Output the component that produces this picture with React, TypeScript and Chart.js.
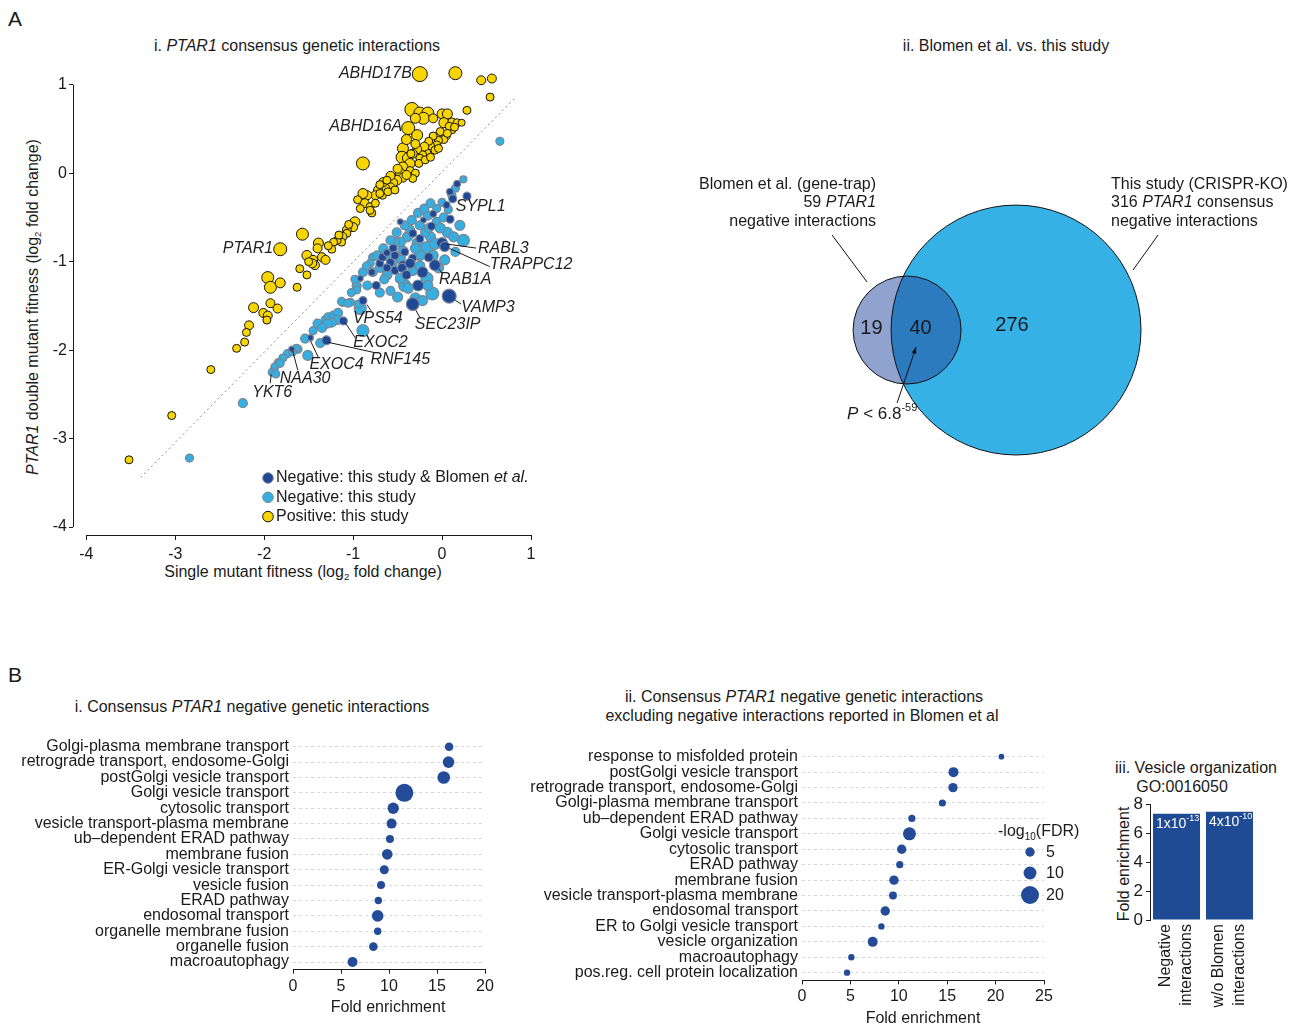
import React, { useEffect, useRef } from 'react';
import { Chart, registerables } from 'chart.js';

Chart.register(...registerables);

const FONT = '"Liberation Sans", Arial, Helvetica, sans-serif';
const INK = '#1a1a1a';
Chart.defaults.font.family = FONT;
Chart.defaults.color = INK;

// ================= Panel A.i : PTAR1 consensus genetic interactions =================
// [single mutant fitness, double mutant fitness, marker size]
const negBothBlomen: [number, number, number][] = [
  [0.17, -0.12, 3.5], [0.09, -0.21, 3.5], [0.28, -0.26, 4], [0.12, -0.29, 4], [-0.10, -0.46, 3.5],
  [-0.21, -0.53, 3], [0.09, -0.52, 4], [-0.33, -0.68, 4], [0, -0.79, 5.5], [0.03, -0.83, 5],
  [-0.55, -0.85, 4], [-0.70, -1.02, 4], [-0.58, -1.01, 4], [-0.44, -1.04, 4.5], [-0.33, -0.96, 4],
  [-0.08, -1.04, 5.5], [-0.22, -1.12, 5.5], [-0.27, -1.27, 5.5], [0.08, -1.39, 7], [-0.33, -1.48, 6.5],
  [-0.92, -1.19, 3], [-0.74, -1.27, 4], [-0.89, -1.44, 4], [-1.11, -1.67, 4], [-1.48, -1.86, 3],
  [-1.30, -1.89, 4.5], [-1.69, -1.99, 3], [-0.67, -0.95, 4], [-0.53, -1.10, 4], [-0.42, -0.89, 4],
  [-0.47, -0.55, 3], [-0.25, -0.74, 4], [-0.79, -1.12, 3.5], [-0.36, -1.02, 5], [-0.62, -1.07, 4],
  [-0.45, -1.07, 4.5], [-0.53, -0.93, 4], [-0.15, -0.95, 4.5], [-0.40, -1.15, 4.5], [0.05, -0.36, 3.5],
  [-0.62, -0.90, 3.5], [-0.12, -0.60, 4],
];
const negThisStudy: [number, number, number][] = [
  [0.65, 0.36, 4], [0.24, -0.07, 3.5], [0, -0.33, 4], [0.07, -0.41, 4], [-0.06, -0.55, 4.5],
  [0.20, -0.59, 5], [-0.39, -0.72, 5], [-0.13, -0.72, 5], [0.06, -0.67, 5], [0.24, -0.76, 6],
  [-0.17, -0.84, 6], [-0.28, -0.79, 5], [-0.47, -0.78, 5], [-0.62, -0.93, 5], [-0.47, -0.96, 5],
  [-0.25, -0.93, 5], [-0.10, -0.93, 5], [-0.33, -1.10, 5], [-0.17, -1.19, 6], [-0.42, -1.27, 6],
  [-0.11, -1.36, 6.5], [-0.16, -1.27, 5], [-0.38, -1.30, 5], [-0.47, -1.19, 5], [-0.62, -1.15, 5],
  [-0.70, -1.07, 4.5], [-0.78, -1.12, 4.5], [-0.89, -1.12, 4.5], [-0.96, -1.27, 4.5], [-0.84, -1.27, 4.5],
  [-0.96, -1.32, 4], [-1.03, -1.46, 4], [-1.12, -1.46, 4], [-0.92, -1.53, 6], [-0.78, -0.95, 4],
  [-0.81, -1.02, 4], [-0.53, -0.78, 4.5], [-0.36, -0.64, 4.5], [-0.25, -0.59, 4.5], [-0.16, -0.48, 4.5],
  [-0.06, -0.40, 4], [0.11, -0.25, 4], [0.15, -0.17, 4], [-0.19, -0.67, 4.5],
  [-1.19, -1.66, 4.5], [-1.31, -1.66, 4.5], [-1.28, -1.63, 4.5], [-1.22, -1.61, 4.5], [-1.17, -1.58, 4.5],
  [-1.18, -1.66, 4.5], [-1.24, -1.69, 4.5], [-1.29, -1.70, 4.5], [-1.40, -1.70, 4.5], [-0.89, -1.78, 6],
  [-1.54, -1.87, 4.5], [-1.37, -1.92, 4.5], [-1.62, -1.99, 4], [-1.51, -2.06, 5], [-1.74, -2.04, 4],
  [-1.79, -2.09, 4], [-1.84, -2.14, 4], [-1.88, -2.19, 4], [-1.91, -2.25, 4], [-1.87, -2.27, 4],
  [-2.24, -2.60, 4.5], [-2.84, -3.22, 4], [-1.13, -1.45, 4], [-1.06, -1.47, 4], [-0.94, -1.48, 4],
  [-1.64, -1.98, 4], [-1.82, -2.15, 4],
  [-0.42, -0.59, 4.5], [-0.34, -0.53, 4.5], [-0.27, -0.45, 4.5], [-0.20, -0.40, 4.5], [-0.13, -0.34, 4.5],
  [-0.51, -0.67, 4.5], [-0.58, -0.76, 4.5], [-0.66, -0.85, 4.5], [-0.73, -0.93, 4.5], [-0.56, -1.01, 5],
  [-0.04, -1.07, 5], [0.03, -0.98, 5], [0.15, -0.89, 4.5], [-0.30, -1.41, 5], [-0.22, -1.44, 5],
  [-0.02, -0.62, 5], [0.13, -0.72, 5], [-0.08, -0.80, 5.5], [-0.25, -1.05, 5], [-0.44, -0.88, 5],
  [-0.65, -1.20, 4.5], [-0.50, -1.40, 5], [-0.58, -1.33, 4.5], [-0.30, -0.85, 5], [-0.15, -0.62, 4.5],
  [0.02, -0.50, 4.5], [-0.85, -1.05, 4], [-0.98, -1.20, 4], [-1.02, -1.35, 4], [-0.70, -1.35, 4.5],
  [-1.35, -1.75, 4.5], [-1.45, -1.78, 4], [-1.68, -2.02, 4],
];
const posThisStudy: [number, number, number][] = [
  [-0.25, 1.12, 7.5], [0.15, 1.13, 6.5], [0.44, 1.05, 4.5], [0.56, 1.07, 4.5], [0.54, 0.86, 4],
  [-0.34, 0.72, 7], [-0.25, 0.68, 6], [-0.16, 0.68, 6], [-0.21, 0.62, 6], [0, 0.67, 5], [0.06, 0.67, 5],
  [0.28, 0.71, 4], [0.02, 0.57, 5], [0.11, 0.58, 4], [0.17, 0.57, 4], [0.22, 0.57, 3.5], [0.11, 0.49, 4],
  [0.04, 0.42, 4.5], [0.02, 0.38, 4], [-0.04, 0.37, 4], [-0.06, 0.32, 4], [-0.13, 0.31, 4], [-0.17, 0.23, 4],
  [-0.22, 0.21, 4], [-0.25, 0.17, 4],
  [-0.38, 0.51, 6.5], [-0.28, 0.43, 5.5], [-0.44, 0.28, 5.5], [-0.45, 0.18, 6], [-0.39, 0.17, 5],
  [-0.36, 0.11, 5], [-0.44, 0.07, 5], [-0.47, 0, 5], [-0.44, -0.05, 4.5], [-0.51, -0.08, 5],
  [-0.55, -0.11, 4.5], [-0.58, -0.16, 4.5], [-0.64, -0.17, 4.5], [-0.72, -0.19, 4.5], [-0.75, -0.25, 4.5],
  [-0.84, -0.25, 4.5], [-0.89, -0.23, 5], [-0.87, -0.34, 4.5], [-0.81, -0.38, 4], [-0.75, -0.34, 4],
  [-0.67, -0.25, 4], [-0.61, -0.21, 4], [-0.53, -0.19, 4],
  [-0.89, 0.11, 6.5], [-0.26, 0.11, 4], [-0.19, 0.15, 4], [-0.13, 0.18, 4], [-0.08, 0.26, 4],
  [-0.04, 0.28, 4], [-0.36, 0.03, 4], [-0.30, 0, 4], [-0.33, -0.06, 4], [-0.79, -0.45, 4],
  [-0.81, -0.42, 4], [-0.70, -0.23, 4],
  [-0.98, -0.55, 5], [-1.00, -0.61, 4.5], [-1.07, -0.64, 4.5], [-1.07, -0.68, 4], [-1.12, -0.72, 4.5],
  [-1.13, -0.78, 4], [-1.18, -0.76, 4], [-1.22, -0.78, 4], [-1.24, -0.86, 4],
  [-1.57, -0.69, 6], [-1.39, -0.79, 5], [-1.52, -0.93, 5], [-1.45, -0.98, 4.5], [-1.43, -1.04, 4.5],
  [-1.35, -0.95, 4.5], [-1.31, -0.98, 4.5], [-1.46, -1.02, 4.5], [-1.52, -1.15, 4],
  [-1.82, -0.86, 6.5], [-1.96, -1.18, 6], [-1.93, -1.29, 6], [-1.82, -1.24, 5], [-1.63, -1.29, 4],
  [-2.12, -1.52, 5], [-2.01, -1.58, 4.5], [-1.96, -1.61, 4.5], [-1.93, -1.47, 4.5], [-1.85, -1.53, 4.5],
  [-1.97, -1.66, 4], [-2.17, -1.72, 4.5], [-2.20, -1.80, 4], [-2.22, -1.91, 4], [-2.31, -1.98, 4],
  [-2.60, -2.22, 4], [-3.04, -2.74, 4], [-3.52, -3.24, 4],
  [-0.30, 0.62, 5], [-0.10, 0.62, 4.5], [0.08, 0.53, 4], [0.14, 0.52, 4], [-0.02, 0.47, 4],
  [0.06, 0.45, 4], [-0.10, 0.42, 4], [-0.15, 0.36, 4], [-0.20, 0.30, 4.5], [-0.28, 0.27, 4.5],
  [-0.33, 0.22, 4.5], [-0.30, 0.33, 4.5], [-0.40, 0.38, 5], [-0.50, 0.05, 4.5], [-0.58, -0.03, 4.5],
  [-0.66, -0.10, 4.5], [-0.70, -0.13, 4], [-0.62, -0.08, 4], [-0.40, -0.02, 4.5], [-0.35, 0.22, 4],
  [-0.95, -0.30, 4], [-0.92, -0.40, 4], [-1.05, -0.58, 4], [-1.16, -0.70, 4], [-1.28, -0.82, 4],
  [-1.40, -0.85, 4.5], [-1.50, -1.00, 4], [-1.60, -1.08, 4],
];
const diagonalX = [-3.39, 0.82];
const diagonalY = [-3.44, 0.85];
const fitnessTicks = [-4, -3, -2, -1, 0, 1];

const geneLabelNames = ['ABHD17B', 'ABHD16A', 'PTAR1', 'SYPL1', 'RABL3', 'TRAPPC12', 'RAB1A', 'VAMP3', 'SEC23IP', 'VPS54', 'EXOC2', 'RNF145', 'EXOC4', 'NAA30', 'YKT6'];
const geneLabelX = [-0.25, -0.38, -1.82, 0.12, 0, 0.03, -0.08, 0.08, -0.33, -0.89, -1.11, -1.30, -1.48, -1.69, -1.91];
const geneLabelY = [1.12, 0.51, -0.86, -0.29, -0.79, -0.83, -1.04, -1.39, -1.48, -1.44, -1.67, -1.89, -1.86, -1.99, -2.25];

// label placement (pixel offsets from the point) and leader segments
const geneLabelLayout: Record<string, { dx: number; dy: number; align: 'left' | 'right'; lead?: [number, number, number, number] }> = {
  ABHD17B: { dx: -8, dy: -1, align: 'right' },
  ABHD16A: { dx: -6, dy: -1, align: 'right' },
  PTAR1: { dx: -7, dy: -1, align: 'right' },
  SYPL1: { dx: 3, dy: 8, align: 'left' },
  RABL3: { dx: 36, dy: 5, align: 'left', lead: [5, 1, 34, 5] },
  TRAPPC12: { dx: 45, dy: 18, align: 'left', lead: [5, 2, 45, 20] },
  RAB1A: { dx: 4, dy: 14, align: 'left', lead: [4, 4, 7, 8] },
  VAMP3: { dx: 12, dy: 11, align: 'left', lead: [6, 4, 12, 8] },
  SEC23IP: { dx: 2, dy: 20, align: 'left', lead: [3, 6, 7, 13] },
  VPS54: { dx: -10, dy: 18, align: 'left', lead: [4, 4, 8, 10] },
  EXOC2: { dx: 10, dy: 22, align: 'left', lead: [2, 2, 12, 17] },
  RNF145: { dx: 44, dy: 19, align: 'left', lead: [2, 2, 47, 12] },
  EXOC4: { dx: -1, dy: 27, align: 'left', lead: [0, 3, 8, 20] },
  NAA30: { dx: -12, dy: 29, align: 'left', lead: [1, 2, 6, 21] },
  YKT6: { dx: -20, dy: 20, align: 'left', lead: [-1, 2, -2, 11] },
};

// ================= Panel A.ii : Venn =================
const vennTotals = [59, 316]; // Blomen et al., this study
const vennRegionCounts = [19, 40, 276];
const vennPValue = { base: '6.8', exp: '-59' };

// ================= Panel B.i =================
const consensusTerms = [
  'Golgi-plasma membrane transport', 'retrograde transport, endosome-Golgi', 'postGolgi vesicle transport',
  'Golgi vesicle transport', 'cytosolic transport', 'vesicle transport-plasma membrane', 'ub\u2013dependent ERAD pathway',
  'membrane fusion', 'ER-Golgi vesicle transport', 'vesicle fusion', 'ERAD pathway', 'endosomal transport',
  'organelle membrane fusion', 'organelle fusion', 'macroautophagy',
];
const consensusFold = [16.26, 16.2, 15.7, 11.6, 10.44, 10.27, 10.1, 9.82, 9.51, 9.17, 8.89, 8.82, 8.82, 8.37, 6.2];
const consensusLogFdr = [4.1, 8.0, 9.5, 20, 7.7, 5.8, 3.5, 6.6, 4.6, 3.5, 2.9, 8.0, 2.9, 4.1, 5.8];
const foldMaxBi = 20;

// ================= Panel B.ii =================
const exclTerms = [
  'response to misfolded protein', 'postGolgi vesicle transport', 'retrograde transport, endosome-Golgi',
  'Golgi-plasma membrane transport', 'ub\u2013dependent ERAD pathway', 'Golgi vesicle transport', 'cytosolic transport',
  'ERAD pathway', 'membrane fusion', 'vesicle transport-plasma membrane', 'endosomal transport',
  'ER to Golgi vesicle transport', 'vesicle organization', 'macroautophagy', 'pos.reg. cell protein localization',
];
const exclFold = [20.6, 15.65, 15.6, 14.5, 11.35, 11.1, 10.3, 10.1, 9.5, 9.4, 8.6, 8.2, 7.3, 5.1, 4.65];
const exclLogFdr = [1.5, 5.8, 5.0, 2.7, 2.7, 10.2, 5.0, 2.7, 5.0, 3.4, 5.0, 2.0, 5.8, 2.0, 2.0];
const foldMaxBii = 25;
const fdrLegendValues = [5, 10, 20];

// ================= Panel B.iii =================
const vesicleLabels = [['Negative', 'interactions'], ['w/o Blomen', 'interactions']];
const vesicleFold = [7.33, 7.47];
const vesiclePBase = ['1x10', '4x10'];
const vesiclePExp = ['-13', '-10'];

// ================= styling =================
const C_DARK = '#1F4896';
const C_LIGHT = '#35AEE2';
const C_YELLOW = '#F8D500';
const C_DOT = '#234B98';
const fdrRadius = (v: number) => Math.sqrt(2.3 + 3.93 * v);

type Seg = { t: string; it?: boolean; sup?: boolean; sub?: boolean };
function drawSegs(ctx: CanvasRenderingContext2D, segs: Seg[], x: number, y: number, size: number, align: 'left' | 'right' | 'center', color = INK) {
  const f = (s: Seg) => `${s.it ? 'italic ' : ''}${s.sup || s.sub ? Math.round(size * 0.62) : size}px ${FONT}`;
  let w = 0;
  for (const s of segs) { ctx.font = f(s); w += ctx.measureText(s.t).width; }
  let cx = align === 'left' ? x : align === 'right' ? x - w : x - w / 2;
  ctx.save();
  ctx.fillStyle = color;
  ctx.textAlign = 'left';
  ctx.textBaseline = 'middle';
  for (const s of segs) {
    ctx.font = f(s);
    const dy = s.sup ? -size * 0.38 : s.sub ? size * 0.3 : 0;
    ctx.fillText(s.t, cx, y + dy);
    cx += ctx.measureText(s.t).width;
  }
  ctx.restore();
}

// ---------- A.i chart ----------
const rangeAxesPlugin = {
  id: 'rangeAxes',
  afterDraw(chart: any) {
    const { ctx, chartArea, scales } = chart;
    const x = scales.x, y = scales.y;
    const lo = fitnessTicks[0], hi = fitnessTicks[fitnessTicks.length - 1];
    ctx.save();
    ctx.strokeStyle = INK;
    ctx.lineWidth = 1;
    ctx.beginPath();
    const lx = Math.round(chartArea.left) + 0.5;
    ctx.moveTo(lx, y.getPixelForValue(hi));
    ctx.lineTo(lx, y.getPixelForValue(lo));
    const by = Math.round(chartArea.bottom) + 0.5;
    ctx.moveTo(x.getPixelForValue(lo), by);
    ctx.lineTo(x.getPixelForValue(hi), by);
    ctx.stroke();
    ctx.restore();
  },
};

const geneLabelPlugin = {
  id: 'geneLabels',
  afterDatasetsDraw(chart: any) {
    const { ctx, scales } = chart;
    geneLabelNames.forEach((g, i) => {
      const px = scales.x.getPixelForValue(geneLabelX[i]);
      const py = scales.y.getPixelForValue(geneLabelY[i]);
      const L = geneLabelLayout[g];
      if (L.lead) {
        ctx.save();
        ctx.strokeStyle = INK;
        ctx.lineWidth = 1;
        ctx.beginPath();
        ctx.moveTo(px + L.lead[0], py + L.lead[1]);
        ctx.lineTo(px + L.lead[2], py + L.lead[3]);
        ctx.stroke();
        ctx.restore();
      }
      drawSegs(ctx, [{ t: g, it: true }], px + L.dx, py + L.dy, 16, L.align, '#222');
    });
  },
};

const legendAPlugin = {
  id: 'legendA',
  afterDraw(chart: any) {
    const { ctx, chartArea } = chart;
    const mx = chartArea.left + 195;
    const rows: { fill: string; stroke: string; segs: Seg[] }[] = [
      { fill: C_DARK, stroke: '#7d8793', segs: [{ t: 'Negative: this study & Blomen ' }, { t: 'et al.', it: true }] },
      { fill: C_LIGHT, stroke: '#7d8793', segs: [{ t: 'Negative: this study' }] },
      { fill: C_YELLOW, stroke: '#111', segs: [{ t: 'Positive: this study' }] },
    ];
    rows.forEach((r, i) => {
      const my = chartArea.bottom - 57 + i * 19.3;
      ctx.save();
      ctx.beginPath();
      ctx.arc(mx, my, 5.3, 0, Math.PI * 2);
      ctx.fillStyle = r.fill;
      ctx.fill();
      ctx.lineWidth = 1;
      ctx.strokeStyle = r.stroke;
      ctx.stroke();
      ctx.restore();
      drawSegs(ctx, r.segs, mx + 8, my, 16, 'left');
    });
  },
};

function buildScatter(): any {
  const toPts = (arr: [number, number, number][]) => arr.map(([x, y, s]) => ({ x, y, r: s }));
  return {
    type: 'bubble',
    data: {
      datasets: [
        { label: 'Negative: this study & Blomen et al.', data: toPts(negBothBlomen), backgroundColor: C_DARK, borderColor: 'rgba(128,138,152,0.95)', borderWidth: 1.2, clip: false },
        { label: 'Negative: this study', data: toPts(negThisStudy), backgroundColor: C_LIGHT, borderColor: '#7a8590', borderWidth: 1.2, clip: false },
        { label: 'Positive: this study', data: toPts(posThisStudy), backgroundColor: C_YELLOW, borderColor: '#141414', borderWidth: 1, clip: false },
        { type: 'scatter', label: 'diagonal', data: diagonalX.map((x, i) => ({ x, y: diagonalY[i] })), showLine: true, borderColor: '#8c8c8c', borderWidth: 1, borderDash: [2, 3], pointRadius: 0, clip: false },
      ],
    },
    options: {
      responsive: false,
      animation: false,
      events: [],
      layout: { autoPadding: false, padding: { top: 16, right: 89, left: 0, bottom: 0 } },
      plugins: { legend: { display: false }, tooltip: { enabled: false } },
      scales: {
        x: {
          type: 'linear', min: -4.15, max: 1,
          afterFit: (s: any) => { s.height = 55; },
          afterBuildTicks: (s: any) => { s.ticks = fitnessTicks.map((v) => ({ value: v })); },
          grid: { drawOnChartArea: false, drawTicks: true, tickLength: 5, color: INK },
          border: { display: false },
          ticks: { font: { size: 16 }, color: INK, padding: 5, maxRotation: 0, callback: (v: any) => `${v}` },
        },
        y: {
          type: 'linear', min: -4.09, max: 1.2,
          afterFit: (s: any) => { s.width = 53; },
          afterBuildTicks: (s: any) => { s.ticks = fitnessTicks.map((v) => ({ value: v })); },
          grid: { drawOnChartArea: false, drawTicks: true, tickLength: 4, color: INK },
          border: { display: false },
          ticks: { font: { size: 16 }, color: INK, padding: 2, callback: (v: any) => `${v}` },
        },
      },
    },
    plugins: [rangeAxesPlugin, geneLabelPlugin, legendAPlugin],
  };
}

// ---------- A.ii Venn ----------
const VENN_W = 618, VENN_H = 320, VENN_PX = 7.03;
const vennCenterX = [32.3, 47.8];
const vennCenterY = 19.91;

const vennPlugin = {
  id: 'venn',
  afterDatasetsDraw(chart: any) {
    const ctx: CanvasRenderingContext2D = chart.ctx;
    const s: any = chart.getDatasetMeta(0).data[0];
    const b: any = chart.getDatasetMeta(1).data[0];
    const rs = s.options.radius, rb = b.options.radius;
    ctx.save();
    ctx.beginPath();
    ctx.arc(s.x, s.y, rs, 0, Math.PI * 2);
    ctx.clip();
    ctx.beginPath();
    ctx.arc(b.x, b.y, rb, 0, Math.PI * 2);
    ctx.fillStyle = '#2C7BBF';
    ctx.fill();
    ctx.restore();
    ctx.save();
    ctx.strokeStyle = '#111';
    ctx.lineWidth = 1;
    ctx.beginPath(); ctx.arc(b.x, b.y, rb, 0, Math.PI * 2); ctx.stroke();
    ctx.beginPath(); ctx.arc(s.x, s.y, rs, 0, Math.PI * 2); ctx.stroke();
    // leader lines
    ctx.beginPath();
    ctx.moveTo(s.x - 75, s.y - 95); ctx.lineTo(s.x - 40, s.y - 48);
    ctx.moveTo(b.x + 142, b.y - 95); ctx.lineTo(b.x + 117, b.y - 60);
    ctx.stroke();
    // arrow
    const ax0 = s.x - 10, ay0 = s.y + 73, ax1 = s.x + 9, ay1 = s.y + 17;
    ctx.beginPath(); ctx.moveTo(ax0, ay0); ctx.lineTo(ax1, ay1); ctx.stroke();
    const ang = Math.atan2(ay1 - ay0, ax1 - ax0);
    ctx.beginPath();
    ctx.moveTo(ax1, ay1);
    ctx.lineTo(ax1 - 7 * Math.cos(ang - 0.35), ay1 - 7 * Math.sin(ang - 0.35));
    ctx.lineTo(ax1 - 7 * Math.cos(ang + 0.35), ay1 - 7 * Math.sin(ang + 0.35));
    ctx.closePath();
    ctx.fillStyle = '#111';
    ctx.fill();
    ctx.restore();
    // numbers
    drawSegs(ctx, [{ t: String(vennRegionCounts[0]) }], s.x - rs * 0.66, s.y - 2, 20, 'center');
    drawSegs(ctx, [{ t: String(vennRegionCounts[1]) }], s.x + rs * 0.25, s.y - 2, 20, 'center');
    drawSegs(ctx, [{ t: String(vennRegionCounts[2]) }], b.x - 4, b.y - 5, 20, 'center');
    // set labels
    const lx = s.x - 31;
    drawSegs(ctx, [{ t: 'Blomen et al. (gene-trap)' }], lx, s.y - 145, 16, 'right');
    drawSegs(ctx, [{ t: `${vennTotals[0]} ` }, { t: 'PTAR1', it: true }], lx, s.y - 127, 16, 'right');
    drawSegs(ctx, [{ t: 'negative interactions' }], lx, s.y - 108, 16, 'right');
    const rx = b.x + 95;
    drawSegs(ctx, [{ t: 'This study (CRISPR-KO)' }], rx, s.y - 145, 16, 'left');
    drawSegs(ctx, [{ t: `${vennTotals[1]} ` }, { t: 'PTAR1', it: true }, { t: ' consensus' }], rx, s.y - 127, 16, 'left');
    drawSegs(ctx, [{ t: 'negative interactions' }], rx, s.y - 108, 16, 'left');
    drawSegs(ctx, [{ t: 'P', it: true }, { t: ' < ' + vennPValue.base }, { t: vennPValue.exp, sup: true }], s.x - 60, s.y + 84, 17, 'left');
  },
};

function buildVenn(): any {
  // circle area proportional to set size: radius = sqrt(n) scale units
  const rPx = (n: number) => Math.sqrt(n) * VENN_PX;
  return {
    type: 'bubble',
    data: {
      datasets: [
        { label: 'Blomen et al.', data: [{ x: vennCenterX[0], y: vennCenterY, r: rPx(vennTotals[0]) }], backgroundColor: '#8FA3CE', borderWidth: 0, clip: false },
        { label: 'This study', data: [{ x: vennCenterX[1], y: vennCenterY, r: rPx(vennTotals[1]) }], backgroundColor: '#35B1E6', borderWidth: 0, clip: false },
      ],
    },
    options: {
      responsive: false,
      animation: false,
      events: [],
      layout: { autoPadding: false, padding: 0 },
      plugins: { legend: { display: false }, tooltip: { enabled: false } },
      scales: {
        x: { type: 'linear', display: false, min: 0, max: VENN_W / VENN_PX },
        y: { type: 'linear', display: false, min: 0, max: VENN_H / VENN_PX },
      },
    },
    plugins: [vennPlugin],
  };
}

// ---------- B dot plots ----------
function buildDots(terms: string[], folds: number[], fdrs: number[], xMax: number, yWidth: number, padRight: number, xHeight: number, extra: any[]): any {
  return {
    type: 'bubble',
    data: {
      datasets: [{ label: 'GO terms', data: terms.map((t, i) => ({ x: folds[i], y: t, r: fdrRadius(fdrs[i]) })), backgroundColor: C_DOT, borderWidth: 0, clip: false }],
    },
    options: {
      responsive: false,
      animation: false,
      events: [],
      layout: { autoPadding: false, padding: { top: 16, right: padRight, left: 0, bottom: 0 } },
      plugins: { legend: { display: false }, tooltip: { enabled: false } },
      scales: {
        x: {
          type: 'linear', min: 0, max: xMax,
          afterFit: (s: any) => { s.height = xHeight; },
          ticks: { stepSize: 5, font: { size: 16 }, color: INK, padding: 3, maxRotation: 0 },
          grid: { drawOnChartArea: false, drawTicks: true, tickLength: 4, color: INK },
          border: { display: true, color: INK, width: 1 },
        },
        y: {
          type: 'category', labels: terms, offset: true,
          afterFit: (s: any) => { s.width = yWidth; },
          ticks: { font: { size: 16 }, color: INK, padding: 4, autoSkip: false },
          grid: { drawTicks: false, color: '#d8d8d8', lineWidth: 1, offset: false },
          border: { display: false, dash: [3, 3] },
        },
      },
    },
    plugins: extra,
  };
}

const fdrLegendPlugin = {
  id: 'fdrLegend',
  afterDraw(chart: any) {
    const { ctx, chartArea } = chart;
    const dx = chartArea.right - 14;
    drawSegs(ctx, [{ t: '-log' }, { t: '10', sub: true }, { t: '(FDR)' }], chartArea.right - 46, chartArea.top + 83, 16, 'left');
    const ys = [103, 124, 146];
    fdrLegendValues.forEach((v, i) => {
      const y = chartArea.top + ys[i];
      ctx.save();
      ctx.beginPath();
      ctx.arc(dx, y, fdrRadius(v), 0, Math.PI * 2);
      ctx.fillStyle = C_DOT;
      ctx.fill();
      ctx.restore();
      drawSegs(ctx, [{ t: String(v) }], chartArea.right + 2, y + 1, 16, 'left');
    });
  },
};

// ---------- B.iii bars ----------
const barPPlugin = {
  id: 'barP',
  afterDatasetsDraw(chart: any) {
    const meta = chart.getDatasetMeta(0);
    meta.data.forEach((bar: any, i: number) => {
      const left = bar.x - bar.width / 2;
      drawSegs(chart.ctx, [{ t: vesiclePBase[i] }, { t: vesiclePExp[i], sup: true }], left + 3, bar.y + 10, 14, 'left', '#fff');
    });
  },
};
const rotLabelPlugin = {
  id: 'rotLabels',
  afterDraw(chart: any) {
    const { ctx, chartArea, scales } = chart;
    vesicleLabels.forEach((lines, i) => {
      const px = scales.x.getPixelForValue(i);
      lines.forEach((line, j) => {
        ctx.save();
        ctx.translate(px + (j === 0 ? -11 : 10), chartArea.bottom + 4);
        ctx.rotate(-Math.PI / 2);
        ctx.font = `16px ${FONT}`;
        ctx.fillStyle = INK;
        ctx.textAlign = 'right';
        ctx.textBaseline = 'middle';
        ctx.fillText(line, 0, 0);
        ctx.restore();
      });
    });
  },
};

function buildBars(): any {
  return {
    type: 'bar',
    data: {
      labels: vesicleLabels.map((l) => l.join(' ')),
      datasets: [{ label: 'Fold enrichment', data: vesicleFold, backgroundColor: '#1F4A94', barPercentage: 0.887, categoryPercentage: 1 }],
    },
    options: {
      responsive: false,
      animation: false,
      events: [],
      layout: { autoPadding: false, padding: { top: 16, right: 34, left: 0, bottom: 0 } },
      plugins: { legend: { display: false }, tooltip: { enabled: false } },
      scales: {
        x: {
          afterFit: (s: any) => { s.height = 106; },
          ticks: { display: false },
          grid: { display: false, drawTicks: false },
          border: { display: false },
        },
        y: {
          min: 0, max: 8,
          afterFit: (s: any) => { s.width = 50; },
          ticks: { stepSize: 2, font: { size: 17 }, color: INK, padding: 3 },
          grid: { drawOnChartArea: false, drawTicks: true, tickLength: 4, color: INK },
          border: { display: true, color: INK },
        },
      },
    },
    plugins: [barPPlugin, rotLabelPlugin],
  };
}

// ---------- React ----------
function ChartBox({ left, top, width, height, build }: { left: number; top: number; width: number; height: number; build: () => any }) {
  const ref = useRef<HTMLCanvasElement>(null);
  useEffect(() => {
    if (!ref.current) return;
    const chart = new Chart(ref.current, build());
    return () => chart.destroy();
  }, []);
  return <canvas ref={ref} width={width} height={height} style={{ position: 'absolute', left, top, width, height }} />;
}

function Txt({ x, y, size = 16, rotate = false, children }: { x: number; y: number; size?: number; rotate?: boolean; children: any }) {
  return (
    <div style={{ position: 'absolute', left: x, top: y, transform: `translate(-50%, -50%)${rotate ? ' rotate(-90deg)' : ''}`, fontSize: size, fontFamily: FONT, whiteSpace: 'nowrap', lineHeight: 1, color: INK }}>
      {children}
    </div>
  );
}
const Sub = ({ children }: { children: any }) => <span style={{ fontSize: '0.6em', position: 'relative', top: '0.35em' }}>{children}</span>;

export default function App() {
  return (
    <div style={{ position: 'absolute', left: 0, top: 0, width: 1298, height: 1026, overflow: 'hidden', background: '#fff', fontFamily: FONT, color: INK }}>
      <Txt x={15} y={18} size={21}>A</Txt>
      <Txt x={15} y={674} size={21}>B</Txt>

      <Txt x={297} y={46}>i. <i>PTAR1</i> consensus genetic interactions</Txt>
      <Txt x={33} y={307} rotate><i>PTAR1</i> double mutant fitness (log<Sub>2</Sub> fold change)</Txt>
      <Txt x={303} y={572}>Single mutant fitness (log<Sub>2</Sub> fold change)</Txt>
      <ChartBox left={20} top={51} width={600} height={539} build={buildScatter} />

      <Txt x={1006} y={46}>ii. Blomen et al. vs. this study</Txt>
      <ChartBox left={680} top={150} width={VENN_W} height={VENN_H} build={buildVenn} />

      <Txt x={252} y={707}>i. Consensus <i>PTAR1</i> negative genetic interactions</Txt>
      <ChartBox left={0} top={723} width={510} height={303} build={() => buildDots(consensusTerms, consensusFold, consensusLogFdr, foldMaxBi, 293, 25, 56.3, [])} />
      <Txt x={388} y={1007}>Fold enrichment</Txt>

      <Txt x={804} y={697}>ii. Consensus <i>PTAR1</i> negative genetic interactions</Txt>
      <Txt x={802} y={716}>excluding negative interactions reported in Blomen et al</Txt>
      <ChartBox left={520} top={733} width={570} height={293} build={() => buildDots(exclTerms, exclFold, exclLogFdr, foldMaxBii, 282, 46, 45.6, [fdrLegendPlugin])} />
      <Txt x={923} y={1018}>Fold enrichment</Txt>

      <Txt x={1196} y={768}>iii. Vesicle organization</Txt>
      <Txt x={1182} y={787}>GO:0016050</Txt>
      <Txt x={1124} y={864} rotate>Fold enrichment</Txt>
      <ChartBox left={1100} top={788} width={190} height={238} build={buildBars} />
    </div>
  );
}
